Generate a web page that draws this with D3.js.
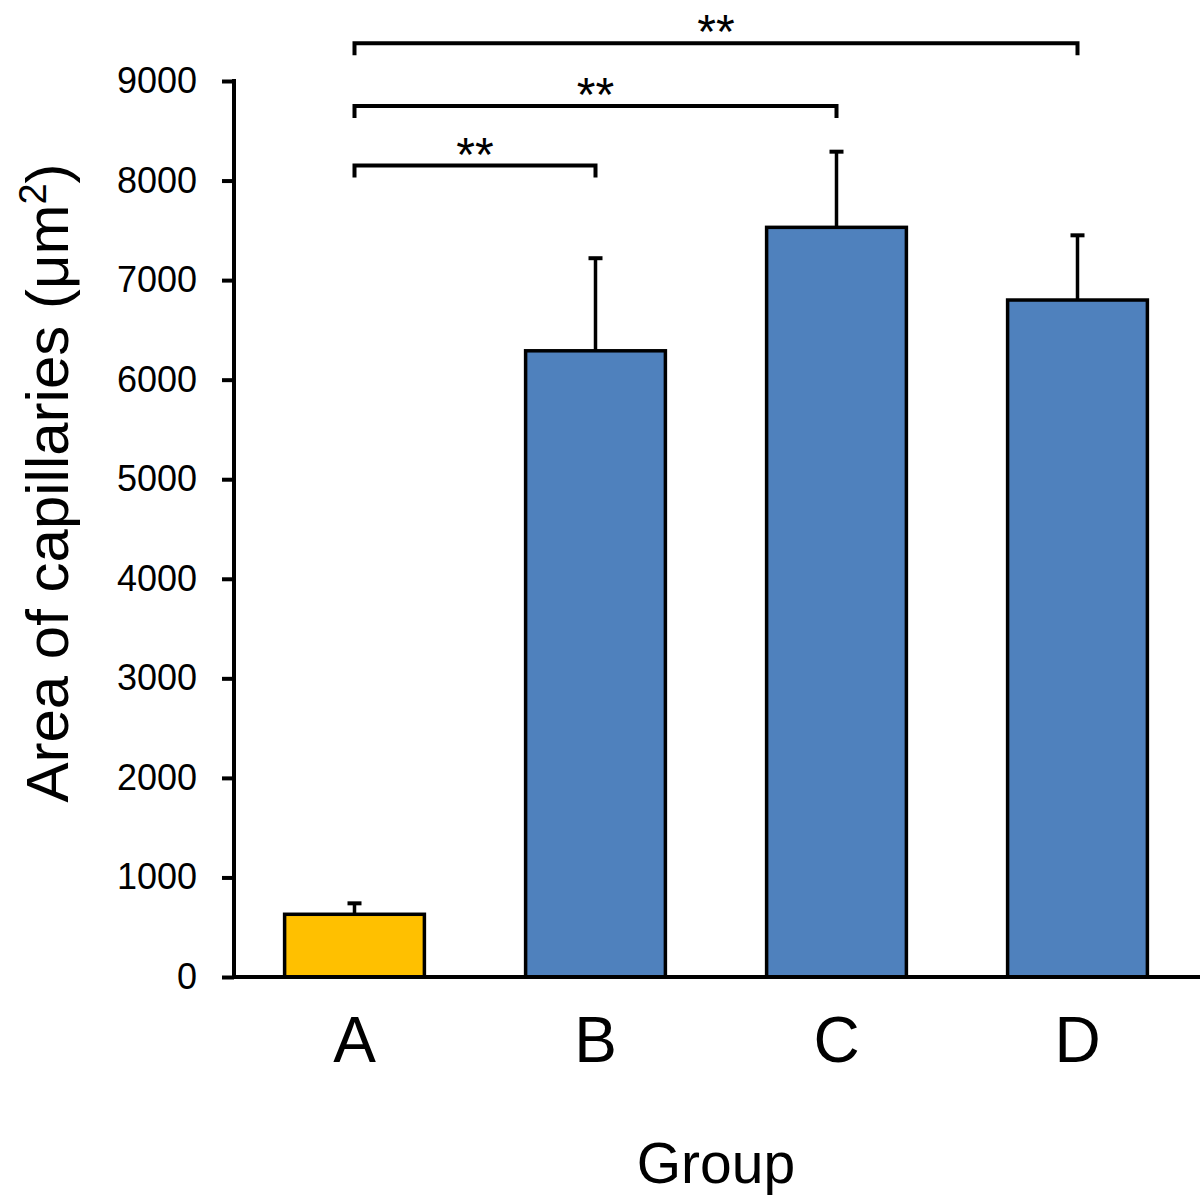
<!DOCTYPE html>
<html>
  <head>
    <meta http-equiv="Content-Type" content="text/html; charset=UTF-8">
    <script type="text/javascript" src="https://cdn.jsdelivr.net/npm/d3@7"></script>
    <style>
      body { margin: 0; background: #fff; }
      #chart { width: 1200px; height: 1200px; }
      text { font-family: "Liberation Sans", Arial, sans-serif; fill: #000; }
    </style>
  </head>
  <body>
    <div id="chart"></div>
    <script>
// data
var groups = ["A", "B", "C", "D"];
var means = [630, 6290, 7530, 6800];
var errors = [110, 930, 760, 650];
var barColors = ["#ffc000", "#4f81bd", "#4f81bd", "#4f81bd"];
var yTicks = [0, 1000, 2000, 3000, 4000, 5000, 6000, 7000, 8000, 9000];
// significance brackets: from group, to group, level (in axis units), label
var bracketFrom = ["A", "A", "A"];
var bracketTo = ["B", "C", "D"];
var bracketLevel = [8150, 8750, 9380];
var bracketLabel = ["**", "**", "**"];

var width = 1200,
    height = 1200;
var margin = {top: 81, left: 234, bottom: 223, right: 2};

var svg = d3.select("#chart").append("svg")
    .attr("width", width)
    .attr("height", height);

var x = d3.scaleBand()
    .domain(groups)
    .range([margin.left, width - margin.right])
    .paddingInner(0.42)
    .paddingOuter(0.21);

var y = d3.scaleLinear()
    .domain([0, 9000])
    .range([height - margin.bottom, margin.top]);

var cx = function (g) { return x(g) + x.bandwidth() / 2; };

// error bars (drawn first so bar outline sits on top)
var err = svg.append("g").selectAll(".err")
    .data(groups)
  .enter().append("g")
    .attr("class", "err");

err.append("line")
    .attr("stroke", "#000")
    .attr("stroke-width", 3.5)
    .attr("x1", function (d) { return cx(d); })
    .attr("x2", function (d) { return cx(d); })
    .attr("y1", function (d, i) { return y(means[i]); })
    .attr("y2", function (d, i) { return y(means[i] + errors[i]); });

err.append("line")
    .attr("stroke", "#000")
    .attr("stroke-width", 4)
    .attr("x1", function (d) { return cx(d) - 7; })
    .attr("x2", function (d) { return cx(d) + 7; })
    .attr("y1", function (d, i) { return y(means[i] + errors[i]); })
    .attr("y2", function (d, i) { return y(means[i] + errors[i]); });

// bars
svg.append("g").selectAll("rect")
    .data(groups)
  .enter().append("rect")
    .attr("x", function (d) { return x(d); })
    .attr("width", x.bandwidth())
    .attr("y", function (d, i) { return y(means[i]); })
    .attr("height", function (d, i) { return y(0) - y(means[i]); })
    .attr("fill", function (d, i) { return barColors[i]; })
    .attr("stroke", "#000")
    .attr("stroke-width", 3.5);

// y axis
var yAxis = svg.append("g")
    .attr("transform", "translate(" + margin.left + ",0)")
    .call(d3.axisLeft(y).tickValues(yTicks).tickFormat(d3.format("d"))
      .tickSize(12).tickPadding(25).tickSizeOuter(0));
yAxis.select(".domain")
    .attr("stroke", "#000")
    .attr("stroke-width", 4)
    .attr("d", "M0," + (y(9000) - 2) + "V" + (y(0) + 2));
yAxis.selectAll(".tick line")
    .attr("stroke", "#000")
    .attr("stroke-width", 4);
yAxis.selectAll(".tick text")
    .attr("font-size", "36px")
    .attr("font-family", "'Liberation Sans', Arial, sans-serif")
    .attr("fill", "#000");

// x axis
var xAxis = svg.append("g")
    .attr("transform", "translate(0," + y(0) + ")")
    .call(d3.axisBottom(x).tickSize(0).tickPadding(85).tickSizeOuter(0));
xAxis.select(".domain")
    .attr("stroke", "#000")
    .attr("stroke-width", 4)
    .attr("d", "M" + (margin.left - 2) + ",0H" + width);
xAxis.selectAll(".tick text")
    .attr("font-size", "64px")
    .attr("font-family", "'Liberation Sans', Arial, sans-serif")
    .attr("fill", "#000")
    .attr("dy", 0);

// axis titles
svg.append("text")
    .attr("x", (margin.left + width - margin.right) / 2)
    .attr("y", 1183)
    .attr("text-anchor", "middle")
    .attr("font-size", "57px")
    .text("Group");

var yt = svg.append("text")
    .attr("transform", "translate(68,483) rotate(-90)")
    .attr("text-anchor", "middle")
    .attr("font-size", "60px")
    .text("Area of capillaries (\u03bcm");
yt.append("tspan")
    .attr("font-size", "38px")
    .attr("dy", "-22")
    .text("2");
yt.append("tspan")
    .attr("dy", "22")
    .text(")");

// significance brackets
var br = svg.append("g").selectAll(".bracket")
    .data(bracketFrom)
  .enter().append("g")
    .attr("class", "bracket");

br.append("path")
    .attr("fill", "none")
    .attr("stroke", "#000")
    .attr("stroke-width", 4)
    .attr("d", function (d, i) {
      var x1 = cx(d), x2 = cx(bracketTo[i]), yy = y(bracketLevel[i]);
      return "M" + x1 + "," + (yy + 12) + "V" + yy + "H" + x2 + "V" + (yy + 12);
    });

br.append("text")
    .attr("x", function (d, i) { return (cx(d) + cx(bracketTo[i])) / 2; })
    .attr("y", function (d, i) { return y(bracketLevel[i]) + 5; })
    .attr("text-anchor", "middle")
    .attr("font-size", "48px")
    .text(function (d, i) { return bracketLabel[i]; });
    </script>
  </body>
</html>
